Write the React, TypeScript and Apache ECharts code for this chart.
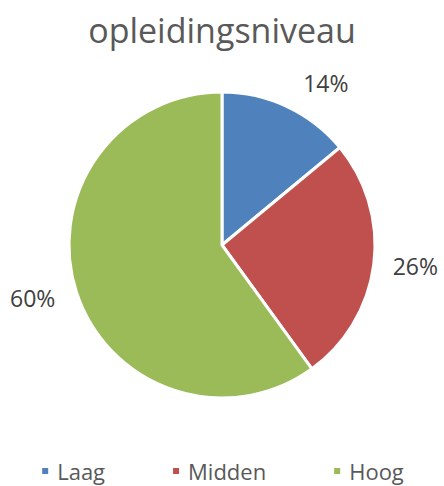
import React, { useEffect, useRef } from "react";
import * as echarts from "echarts";

const categories = ["Laag", "Midden", "Hoog"];
const values = [14, 26, 60];
const colors = ["#4F81BD", "#C0504D", "#9BBB59"];
const labelOffsets = [26, 14, 17];

export default function App() {
  const ref = useRef<HTMLDivElement>(null);
  useEffect(() => {
    if (!ref.current) return;
    const chart = echarts.init(ref.current, null, { renderer: "svg" });
    const font = "'Open Sans', sans-serif";
    chart.setOption({
      animation: false,
      title: {
        text: "opleidingsniveau",
        left: "center",
        top: 8,
        textStyle: { fontFamily: font, fontSize: 34, fontWeight: "normal", color: "#595959" },
      },
      legend: {
        top: 453,
        left: "center",
        icon: "rect",
        itemWidth: 8,
        itemHeight: 8,
        itemGap: 66,
        data: categories,
        textStyle: { fontFamily: font, fontSize: 22, lineHeight: 26, color: "#595959", padding: [0, 0, 0, 3] },
      },
      series: [
        {
          type: "pie",
          center: [222, 245],
          radius: 153,
          startAngle: 90,
          clockwise: true,
          avoidLabelOverlap: false,
          itemStyle: { borderColor: "#ffffff", borderWidth: 3 },
          label: {
            show: true,
            position: "outside",
            formatter: "{d}%",
            fontFamily: font,
            fontSize: 23,
            color: "#404040",
          },
          emphasis: { disabled: true },
          data: categories.map((name, i) => ({
            name,
            value: values[i],
            itemStyle: { color: colors[i] },
            labelLine: { show: false, length: labelOffsets[i], length2: 0 },
          })),
        },
      ],
    });
    return () => chart.dispose();
  }, []);
  return (
    <div
      ref={ref}
      style={{ position: "absolute", left: 0, top: 0, width: 444, height: 486 }}
    />
  );
}
